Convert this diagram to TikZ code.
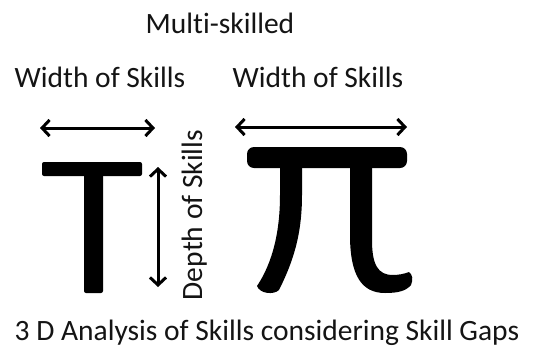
\documentclass[tikz,border=0pt]{standalone}
\usepackage{fontspec}
\setmainfont{Carlito}[Ligatures=NoCommon]
\usepackage{tikz}
\usetikzlibrary{arrows.meta,positioning}

\begin{document}
\begin{tikzpicture}[
  x=1pt, y=-1pt,
  lbl/.style={inner sep=0pt, anchor=base, text=black!92, font=\fontsize{29.5}{34}\selectfont},
  dimarrow/.style={{Straight Barb[length=7.5pt,width=16pt]}-{Straight Barb[length=7.5pt,width=16pt]}, line width=3pt},
  glyph/.style={fill=black, draw=none}
]
\useasboundingbox (0,0) rectangle (536,354);

% texts
\node[lbl] (multi) at (220,33) {Multi-skilled};
\node[lbl] (wleft) at (100,87) {Width of Skills};
\node[lbl] (wright) at (318,87) {Width of Skills};
\node[lbl, rotate=90] (depth) at (202,215) {Depth of Skills};
\node[lbl] (caption) at (267,340) {3 D Analysis of Skills considering Skill Gaps};

% the T
\fill[glyph, rounded corners=2pt] (42,162) rectangle (142,176);
\fill[glyph, rounded corners=2pt] (84,174) rectangle (103,293);

% the pi
\fill[glyph, rounded corners=7pt] (247,147) rectangle (407,168);
\fill[glyph] (280,166) -- (280,195) .. controls (280,240) and (269,268) .. (257,286)
  .. controls (260,294) and (274,295) .. (279,290)
  .. controls (293,262) and (302,235) .. (302,195) -- (302,166) -- cycle;
\fill[glyph] (350,166) -- (350,235) .. controls (350,276) and (362,293) .. (385,293)
  .. controls (398,293) and (406,291) .. (411,285)
  .. controls (413,280) and (413,275) .. (409,272)
  .. controls (404,274) and (398,275) .. (393,275)
  .. controls (378,275) and (372,265) .. (372,240) -- (372,166) -- cycle;

% dimension arrows
\coordinate (tl) at (40,128);
\coordinate (tr) at (155,128);
\coordinate (pl) at (235,127);
\coordinate (pr) at (407,127);
\coordinate (dtop) at (158,167);
\coordinate (dbot) at (158,287);
\draw[dimarrow] (tl) -- (tr);
\draw[dimarrow] (pl) -- (pr);
\draw[dimarrow] (dtop) -- (dbot);
\end{tikzpicture}
\end{document}
